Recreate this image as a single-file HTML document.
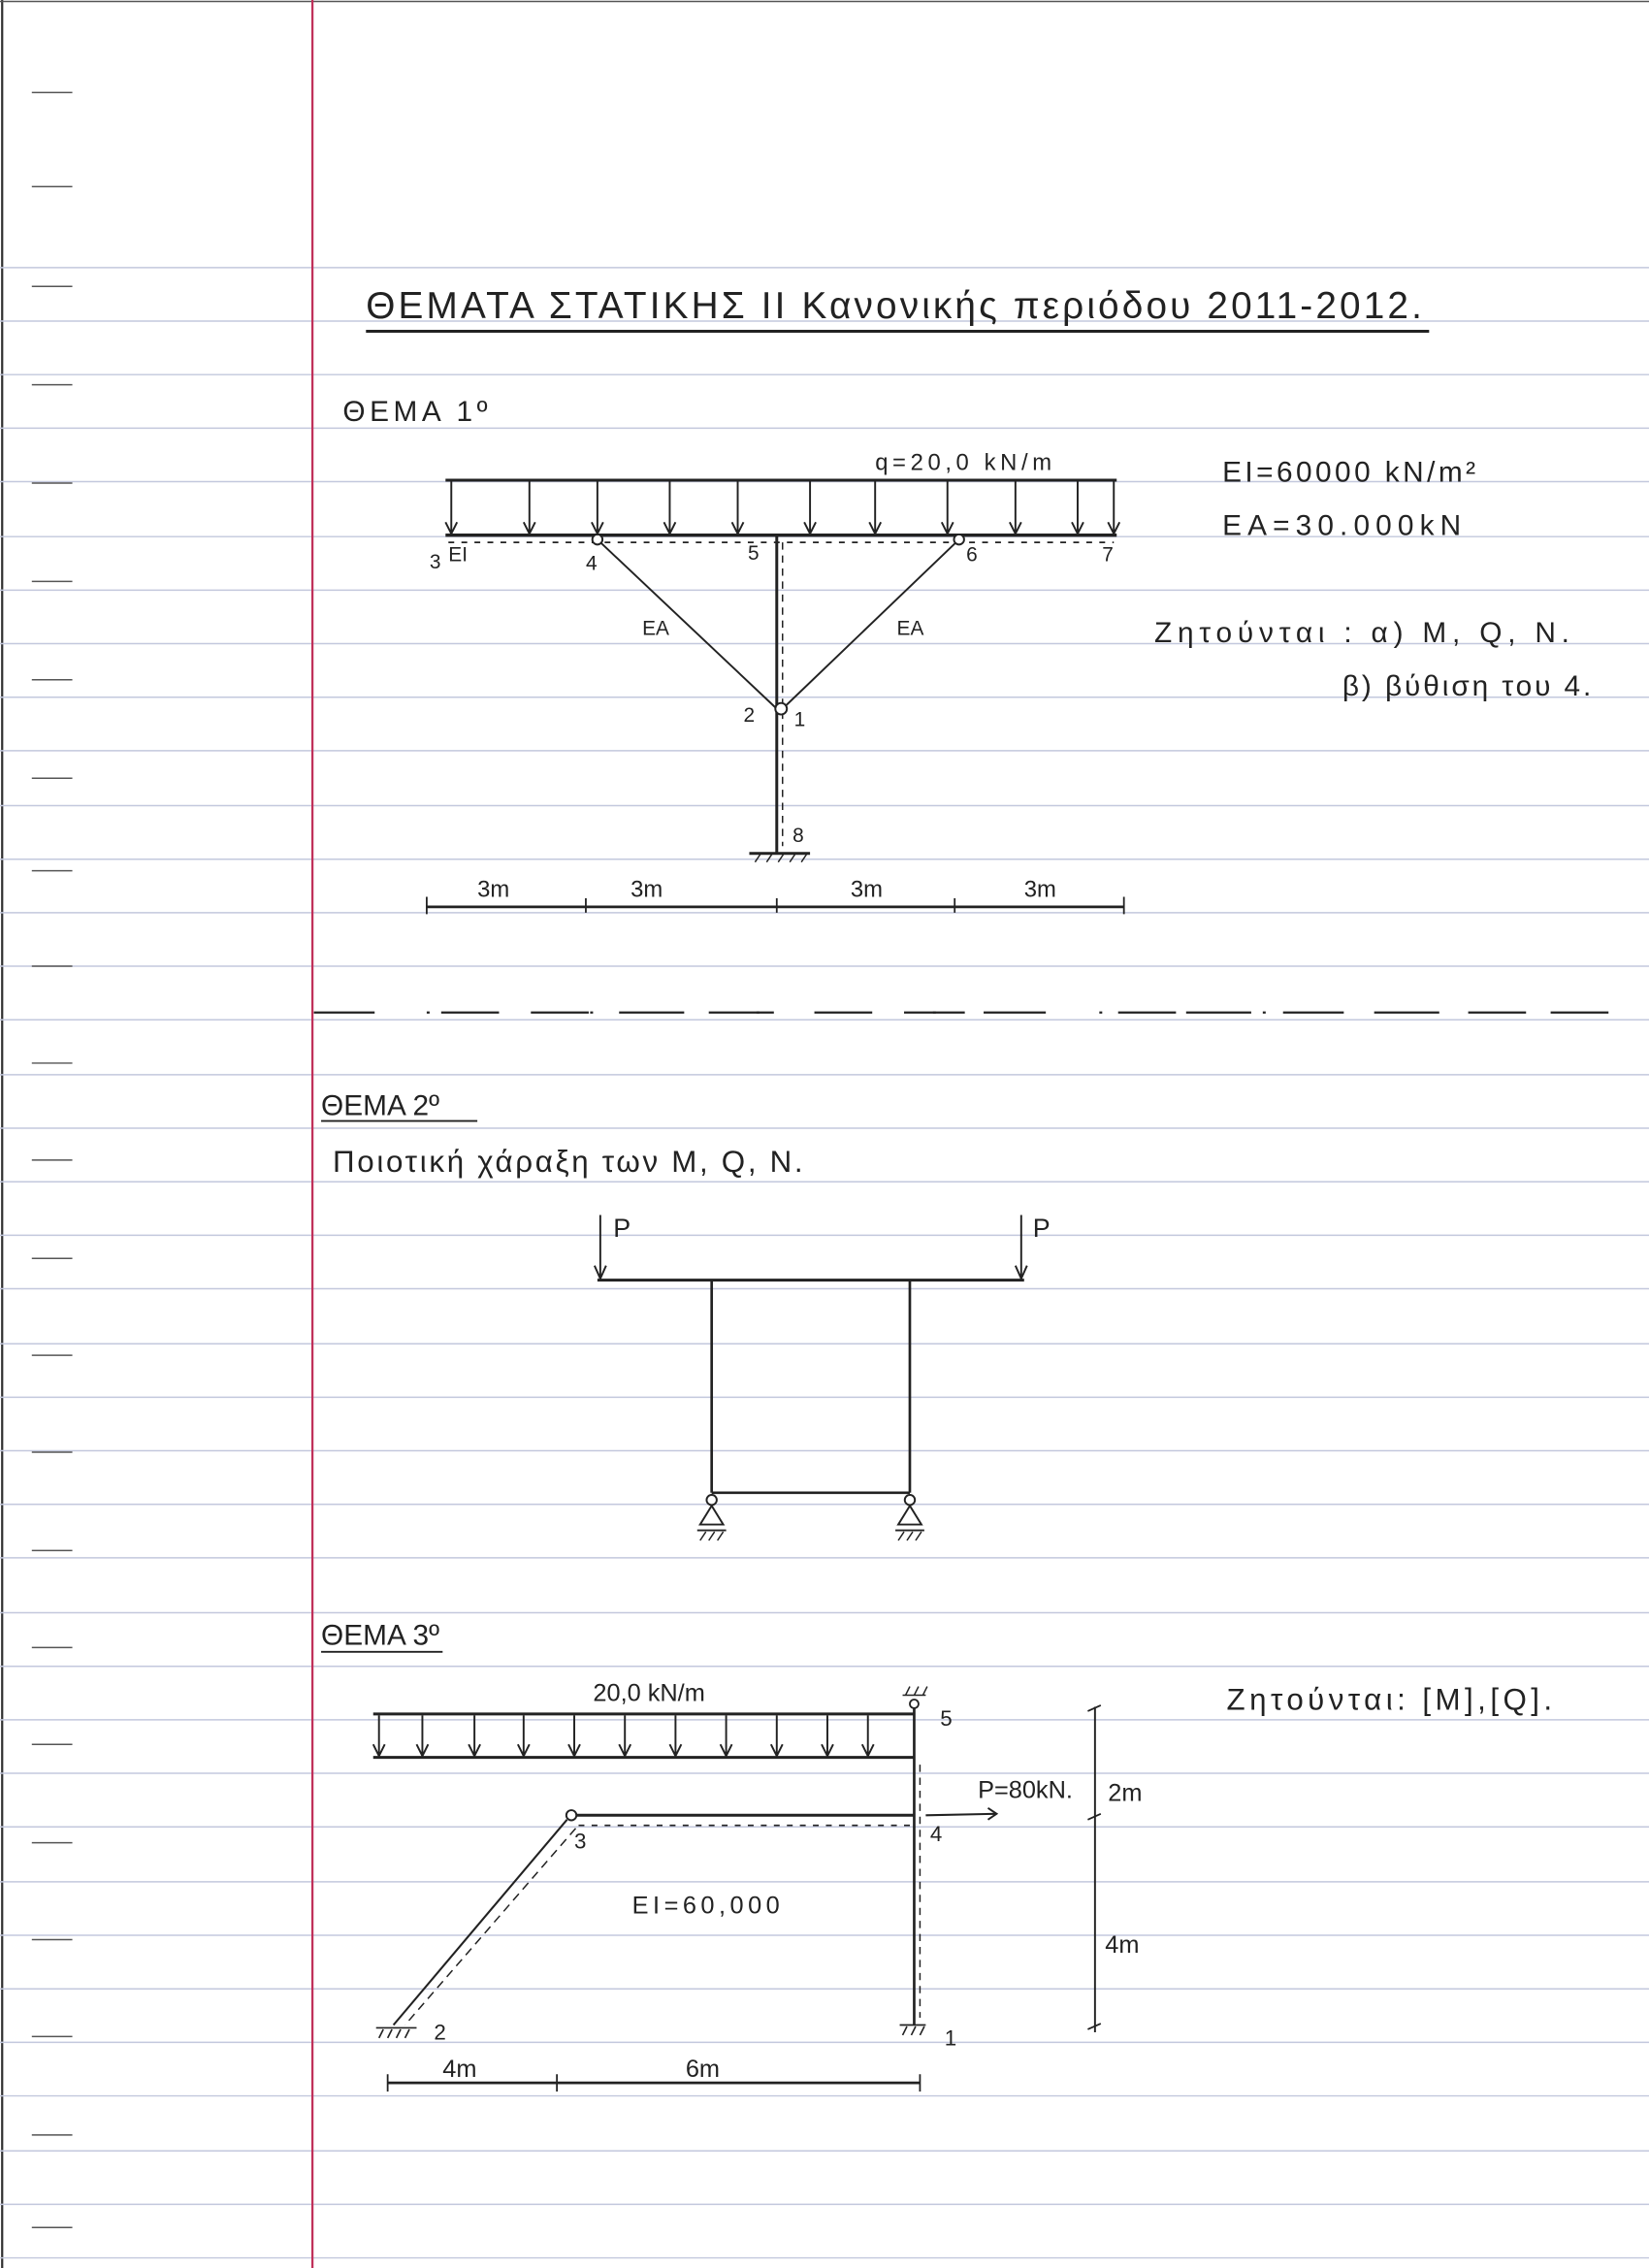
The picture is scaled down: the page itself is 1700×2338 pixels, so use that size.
<!DOCTYPE html>
<html><head><meta charset="utf-8"><style>
html,body{margin:0;padding:0;background:#fff}
svg{display:block}
text{font-family:"Liberation Sans",sans-serif;fill:#222}
</style></head><body>
<svg width="1700" height="2338" viewBox="0 0 1140 1568" preserveAspectRatio="none" xmlns="http://www.w3.org/2000/svg">
<rect width="1140" height="1568" fill="#fff"/>
<line x1="1.5" y1="0" x2="1.5" y2="1568" stroke="#333" stroke-width="1.5"/>
<line x1="0" y1="1" x2="1140" y2="1" stroke="#555" stroke-width="1"/>
<g stroke="#c3c8dd" stroke-width="1">
<line x1="0" y1="185" x2="1140" y2="185"/><line x1="0" y1="222" x2="1140" y2="222"/><line x1="0" y1="259" x2="1140" y2="259"/><line x1="0" y1="296" x2="1140" y2="296"/><line x1="0" y1="333" x2="1140" y2="333"/><line x1="0" y1="371" x2="1140" y2="371"/><line x1="0" y1="408" x2="1140" y2="408"/><line x1="0" y1="445" x2="1140" y2="445"/><line x1="0" y1="482" x2="1140" y2="482"/><line x1="0" y1="519" x2="1140" y2="519"/><line x1="0" y1="557" x2="1140" y2="557"/><line x1="0" y1="594" x2="1140" y2="594"/><line x1="0" y1="631" x2="1140" y2="631"/><line x1="0" y1="668" x2="1140" y2="668"/><line x1="0" y1="705" x2="1140" y2="705"/><line x1="0" y1="743" x2="1140" y2="743"/><line x1="0" y1="780" x2="1140" y2="780"/><line x1="0" y1="817" x2="1140" y2="817"/><line x1="0" y1="854" x2="1140" y2="854"/><line x1="0" y1="891" x2="1140" y2="891"/><line x1="0" y1="929" x2="1140" y2="929"/><line x1="0" y1="966" x2="1140" y2="966"/><line x1="0" y1="1003" x2="1140" y2="1003"/><line x1="0" y1="1040" x2="1140" y2="1040"/><line x1="0" y1="1077" x2="1140" y2="1077"/><line x1="0" y1="1115" x2="1140" y2="1115"/><line x1="0" y1="1152" x2="1140" y2="1152"/><line x1="0" y1="1189" x2="1140" y2="1189"/><line x1="0" y1="1226" x2="1140" y2="1226"/><line x1="0" y1="1263" x2="1140" y2="1263"/><line x1="0" y1="1301" x2="1140" y2="1301"/><line x1="0" y1="1338" x2="1140" y2="1338"/><line x1="0" y1="1375" x2="1140" y2="1375"/><line x1="0" y1="1412" x2="1140" y2="1412"/><line x1="0" y1="1449" x2="1140" y2="1449"/><line x1="0" y1="1487" x2="1140" y2="1487"/><line x1="0" y1="1524" x2="1140" y2="1524"/><line x1="0" y1="1561" x2="1140" y2="1561"/>
</g>
<g stroke="#555" stroke-width="1">
<line x1="22" y1="64" x2="50" y2="64"/><line x1="22" y1="129" x2="50" y2="129"/><line x1="22" y1="198" x2="50" y2="198"/><line x1="22" y1="266" x2="50" y2="266"/><line x1="22" y1="334" x2="50" y2="334"/><line x1="22" y1="402" x2="50" y2="402"/><line x1="22" y1="470" x2="50" y2="470"/><line x1="22" y1="538" x2="50" y2="538"/><line x1="22" y1="602" x2="50" y2="602"/><line x1="22" y1="668" x2="50" y2="668"/><line x1="22" y1="735" x2="50" y2="735"/><line x1="22" y1="802" x2="50" y2="802"/><line x1="22" y1="870" x2="50" y2="870"/><line x1="22" y1="937" x2="50" y2="937"/><line x1="22" y1="1004" x2="50" y2="1004"/><line x1="22" y1="1072" x2="50" y2="1072"/><line x1="22" y1="1139" x2="50" y2="1139"/><line x1="22" y1="1206" x2="50" y2="1206"/><line x1="22" y1="1274" x2="50" y2="1274"/><line x1="22" y1="1341" x2="50" y2="1341"/><line x1="22" y1="1408" x2="50" y2="1408"/><line x1="22" y1="1476" x2="50" y2="1476"/><line x1="22" y1="1540" x2="50" y2="1540"/>
</g>
<line x1="216" y1="0" x2="216" y2="1568" stroke="#c0305a" stroke-width="1.5"/>

<text x="253" y="220" font-size="26" textLength="730" lengthAdjust="spacing">ΘΕΜΑΤΑ  ΣΤΑΤΙΚΗΣ  ΙΙ  Κανονικής περιόδου  2011-2012.</text>
<line x1="253" y1="229" x2="988" y2="229" stroke="#222" stroke-width="2"/>
<text x="237" y="291" font-size="20" textLength="100" lengthAdjust="spacing">ΘΕΜΑ 1º</text>

<g stroke="#222" fill="none">
<line x1="308" y1="332" x2="772" y2="332" stroke-width="2"/>
<line x1="308" y1="370" x2="772" y2="370" stroke-width="2.2"/>
<line x1="310" y1="375" x2="770" y2="375" stroke-width="1.2" stroke-dasharray="4,5"/>
<line x1="537" y1="370" x2="537" y2="590" stroke-width="2"/>
<line x1="541" y1="375" x2="541" y2="585" stroke-width="1" stroke-dasharray="5,4"/>
<line x1="413" y1="373" x2="537" y2="490" stroke-width="1.3"/>
<line x1="663" y1="373" x2="541" y2="490" stroke-width="1.3"/>
<circle cx="413" cy="373" r="3.5" fill="#fff" stroke-width="1.3"/>
<circle cx="663" cy="373" r="3.5" fill="#fff" stroke-width="1.3"/>
<circle cx="540" cy="490" r="4" fill="#fff" stroke-width="1.3"/>
<line x1="518" y1="590" x2="560" y2="590" stroke-width="2"/>
<path d="M522 596l4-6M530 596l4-6M538 596l4-6M546 596l4-6M554 596l4-6" stroke-width="1"/>
<g stroke-width="1.3">
<path d="M312 333v35M308 361l4 8 4-8M366 333v35M362 361l4 8 4-8M413 333v35M409 361l4 8 4-8M463 333v35M459 361l4 8 4-8M510 333v35M506 361l4 8 4-8M560 333v35M556 361l4 8 4-8M605 333v35M601 361l4 8 4-8M655 333v35M651 361l4 8 4-8M702 333v35M698 361l4 8 4-8M745 333v35M741 361l4 8 4-8M770 333v35M766 361l4 8 4-8"/>
</g>
<line x1="295" y1="627" x2="777" y2="627" stroke-width="1.8"/>
<path d="M295 620v12M405 621v10M537 621v10M660 621v10M777 620v12" stroke-width="1.2"/>
</g>
<g font-size="14">
<text x="297" y="393">3</text><text x="310" y="388">EI</text><text x="405" y="394">4</text><text x="517" y="387">5</text><text x="668" y="388">6</text><text x="762" y="388">7</text>
<text x="444" y="439">EA</text><text x="620" y="439">EA</text>
<text x="514" y="499">2</text><text x="549" y="502">1</text><text x="548" y="582">8</text>
</g>
<g font-size="16">
<text x="330" y="620">3m</text><text x="436" y="620">3m</text><text x="588" y="620">3m</text><text x="708" y="620">3m</text>
<text x="605" y="325" textLength="122" lengthAdjust="spacing">q=20,0 kN/m</text>
</g>
<g font-size="20">
<text x="845" y="333" textLength="175" lengthAdjust="spacing">EI=60000 kN/m²</text>
<text x="845" y="370" textLength="165" lengthAdjust="spacing">EA=30.000kN</text>
<text x="798" y="444" textLength="287" lengthAdjust="spacing">Ζητούνται : α) M, Q, N.</text>
<text x="928" y="481" textLength="172" lengthAdjust="spacing">β) βύθιση του 4.</text>
</g>

<g stroke="#222" stroke-width="1.5">
<path d="M217 700h42M305 700h40M367 700h40M428 700h45M490 700h45M563 700h40M625 700h42M680 700h43M773 700h40M820 700h45M887 700h42M950 700h45M1015 700h40M1072 700h40"/>
<path d="M295 700h2M408 700h2M523 700h2M645 700h2M760 700h2M873 700h2"/>
</g>

<text x="222" y="771" font-size="20">ΘΕΜΑ 2º</text>
<line x1="222" y1="775" x2="330" y2="775" stroke="#222" stroke-width="1.3"/>
<text x="230" y="810" font-size="21" textLength="325" lengthAdjust="spacing">Ποιοτική  χάραξη των  M, Q, N.</text>
<g stroke="#222" fill="none">
<line x1="413" y1="885" x2="708" y2="885" stroke-width="2"/>
<line x1="492" y1="885" x2="492" y2="1032" stroke-width="1.8"/>
<line x1="629" y1="885" x2="629" y2="1032" stroke-width="1.8"/>
<line x1="492" y1="1032" x2="629" y2="1032" stroke-width="1.8"/>
<path d="M415 840v43M411 875l4 9 4-9M706 840v43M702 875l4 9 4-9" stroke-width="1.3"/>
<circle cx="492" cy="1037" r="3.5" fill="#fff" stroke-width="1.3"/>
<path d="M492 1041l-8 13h16z" stroke-width="1.3"/>
<line x1="482" y1="1058" x2="502" y2="1058" stroke-width="1.3"/>
<path d="M484 1065l4-6M490 1065l4-6M496 1065l4-6" stroke-width="1"/>
<circle cx="629" cy="1037" r="3.5" fill="#fff" stroke-width="1.3"/>
<path d="M629 1041l-8 13h16z" stroke-width="1.3"/>
<line x1="619" y1="1058" x2="639" y2="1058" stroke-width="1.3"/>
<path d="M621 1065l4-6M627 1065l4-6M633 1065l4-6" stroke-width="1"/>
</g>
<text x="424" y="855" font-size="18">P</text><text x="714" y="855" font-size="18">P</text>

<text x="222" y="1137" font-size="20">ΘΕΜΑ 3º</text>
<line x1="222" y1="1142" x2="306" y2="1142" stroke="#222" stroke-width="1.3"/>
<g stroke="#222" fill="none">
<line x1="258" y1="1185" x2="632" y2="1185" stroke-width="2"/>
<line x1="258" y1="1215" x2="632" y2="1215" stroke-width="2"/>
<path d="M262 1186v27M258 1206l4 8 4-8M292 1186v27M288 1206l4 8 4-8M328 1186v27M324 1206l4 8 4-8M362 1186v27M358 1206l4 8 4-8M397 1186v27M393 1206l4 8 4-8M432 1186v27M428 1206l4 8 4-8M467 1186v27M463 1206l4 8 4-8M502 1186v27M498 1206l4 8 4-8M537 1186v27M533 1206l4 8 4-8M572 1186v27M568 1206l4 8 4-8M600 1186v27M596 1206l4 8 4-8" stroke-width="1.3"/>
<line x1="632" y1="1178" x2="632" y2="1400" stroke-width="1.8"/>
<line x1="636" y1="1220" x2="636" y2="1395" stroke-width="1" stroke-dasharray="5,4"/>
<path d="M624 1172h16M626 1172l3-6M632 1172l3-6M638 1172l3-6" stroke-width="1"/>
<circle cx="632" cy="1178" r="3" fill="#fff" stroke-width="1.2"/>
<line x1="395" y1="1255" x2="632" y2="1255" stroke-width="2"/>
<line x1="400" y1="1262" x2="630" y2="1262" stroke-width="1.1" stroke-dasharray="4,5"/>
<circle cx="395" cy="1255" r="3.5" fill="#fff" stroke-width="1.3"/>
<line x1="392" y1="1258" x2="272" y2="1400" stroke-width="1.4"/>
<line x1="398" y1="1264" x2="280" y2="1400" stroke-width="1" stroke-dasharray="6,4"/>
<path d="M260 1402h28M262 1409l3-6M268 1409l3-6M274 1409l3-6M280 1409l3-6" stroke-width="1.1"/>
<path d="M622 1400h18M624 1407l3-6M630 1407l3-6M636 1407l3-6" stroke-width="1.1"/>
<line x1="640" y1="1255" x2="688" y2="1254" stroke-width="1.4"/>
<path d="M683 1250l6 4-6 4" stroke-width="1.3"/>
<line x1="757" y1="1180" x2="757" y2="1405" stroke-width="1.3"/>
<path d="M752 1183l9-4M752 1258l9-4M752 1403l9-4" stroke-width="1.2"/>
<line x1="268" y1="1440" x2="636" y2="1440" stroke-width="1.8"/>
<path d="M268 1434v12M385 1434v12M636 1434v12" stroke-width="1.2"/>
</g>
<g font-size="15">
<text x="650" y="1193">5</text><text x="643" y="1273">4</text><text x="397" y="1278">3</text><text x="300" y="1410">2</text><text x="653" y="1414">1</text>
</g>
<g font-size="17">
<text x="410" y="1176">20,0 kN/m</text>
<text x="676" y="1243">P=80kN.</text>
<text x="766" y="1245">2m</text><text x="764" y="1350">4m</text>
<text x="437" y="1323" textLength="102" lengthAdjust="spacing">EI=60,000</text>
<text x="306" y="1436">4m</text><text x="474" y="1436">6m</text>
</g>
<text x="848" y="1182" font-size="21" textLength="225" lengthAdjust="spacing">Ζητούνται: [M],[Q].</text>
</svg>
</body></html>
